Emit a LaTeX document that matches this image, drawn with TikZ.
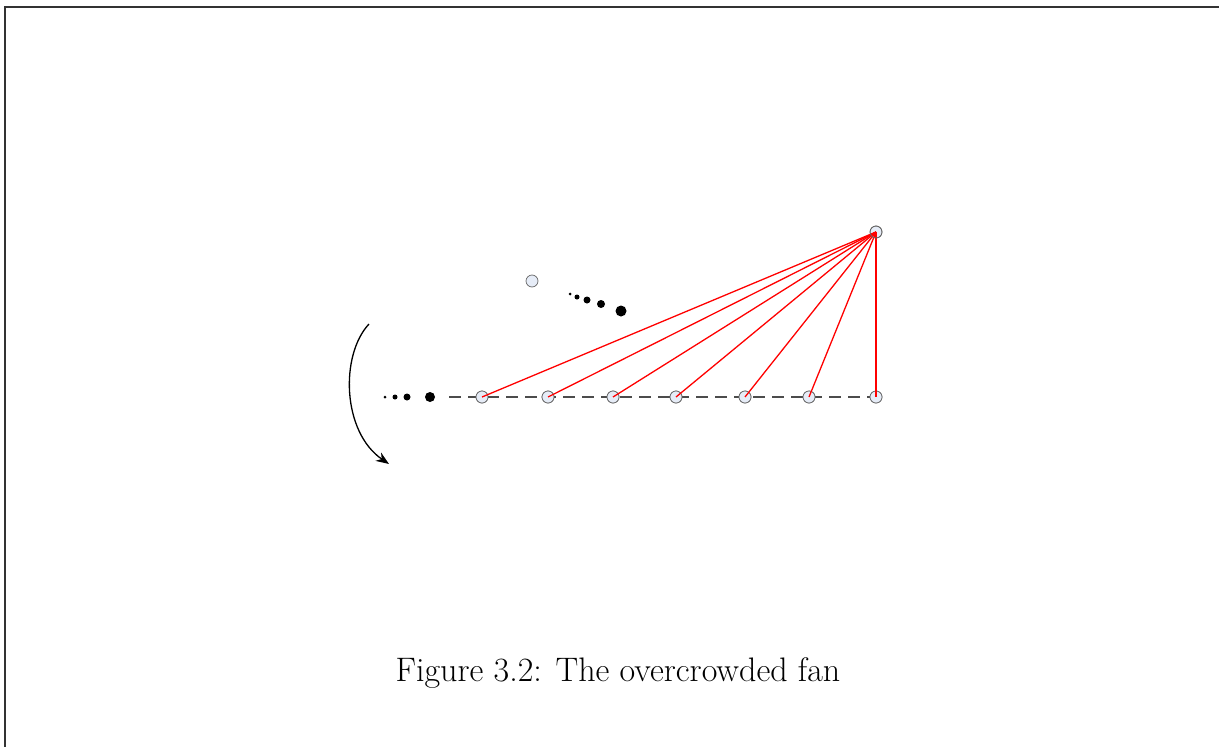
\documentclass[tikz,border=0pt]{standalone}
\usetikzlibrary{arrows.meta}
\definecolor{vfill}{HTML}{E6ECF7}
\begin{document}
\begin{tikzpicture}[x=1pt,y=-1pt,
  vert/.style={circle,draw=black!60,fill=vfill,line width=0.7pt,minimum size=12pt,inner sep=0pt},
  dotb/.style={circle,fill=black,inner sep=0pt},
  fanline/.style={red,line width=1.3pt},
  baseline/.style={draw=black!70,line width=1.8pt,dash pattern=on 12pt off 7pt}]
\useasboundingbox (0,0) rectangle (1219,747);
\draw[line width=1.2pt,black!80] (5,747) -- (5,7) -- (1219,7);
% base row
\coordinate (ds) at (449,397);
\node[vert] (t) at (876,232) {};
\node[vert] (u) at (532,281) {};
\node[vert] (b1) at (482,397) {};
\node[vert] (b2) at (548,397) {};
\node[vert] (b3) at (613,397) {};
\node[vert] (b4) at (676,397) {};
\node[vert] (b5) at (745,397) {};
\node[vert] (b6) at (809,397) {};
\node[vert] (b7) at (876,397) {};
\draw[baseline] (ds) -- (b7.center);
\foreach \i in {1,...,7}{\node[vert] at (b\i) {};}
\foreach \i in {1,...,7}{\draw[fanline] (t.center) -- (b\i.center);}
\node[vert,fill=none] at (t) {};
% left dots
\node[dotb,minimum size=3pt] (l1) at (385,397) {};
\node[dotb,minimum size=5pt] (l2) at (395,397) {};
\node[dotb,minimum size=7pt] (l3) at (407,397) {};
\node[dotb,minimum size=10pt] (l4) at (430,397) {};
% upper dots
\node[dotb,minimum size=3pt] (m1) at (570,294) {};
\node[dotb,minimum size=5pt] (m2) at (577,297) {};
\node[dotb,minimum size=7pt] (m3) at (587,300) {};
\node[dotb,minimum size=8pt] (m4) at (601,304) {};
\node[dotb,minimum size=11pt] (m5) at (621,311) {};
% arc arrow
\coordinate (as) at (369,324);
\coordinate (ae) at (389,464);
\draw[line width=1.3pt,-{Stealth[length=13pt,width=10pt]}] (as) .. controls (340,355) and (342,432) .. (ae);
% caption
\node[font=\fontsize{34}{40}\selectfont] (cap) at (618,673) {Figure 3.2: The overcrowded fan};
\end{tikzpicture}
\end{document}
